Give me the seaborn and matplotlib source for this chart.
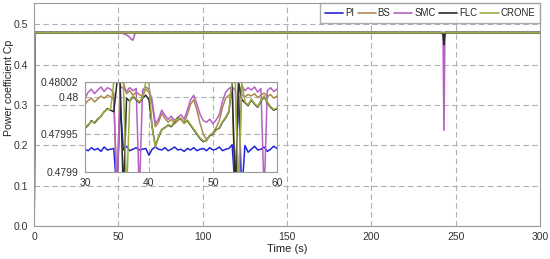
import matplotlib.pyplot as plt
import numpy as np
import pandas as pd
import seaborn as sns

controllers = ["PI", "BS", "SMC", "FLC", "CRONE"]
colors = ["#2424d6", "#b08a4c", "#b462c2", "#2b2b2b", "#9cad42"]

# main plot: Cp over the whole run
t_main = [0, 0.5, 50, 52, 54, 56, 57.5, 58.5, 60, 241, 242, 242.5, 243, 243.5, 244, 300]
cp_main = {
    "PI":    [0, 0.48, 0.48, 0.48, 0.48, 0.48, 0.48, 0.48, 0.48, 0.48, 0.48, 0.48, 0.479, 0.48, 0.48, 0.48],
    "BS":    [0, 0.48, 0.48, 0.48, 0.48, 0.48, 0.48, 0.48, 0.48, 0.48, 0.478, 0.47, 0.455, 0.475, 0.48, 0.48],
    "SMC":   [0, 0.48, 0.48, 0.4785, 0.476, 0.471, 0.464, 0.461, 0.48, 0.48, 0.478, 0.47, 0.238, 0.47, 0.48, 0.48],
    "FLC":   [0, 0.48, 0.48, 0.48, 0.48, 0.48, 0.48, 0.48, 0.48, 0.48, 0.479, 0.475, 0.45, 0.476, 0.48, 0.48],
    "CRONE": [0, 0.48, 0.48, 0.48, 0.48, 0.48, 0.48, 0.48, 0.48, 0.48, 0.48, 0.48, 0.48, 0.48, 0.48, 0.48],
}

# zoomed window 30..60 s, values in units of 1e-5 above 0.4799
t_zoom = np.arange(30, 60.01, 0.5)
u_zoom = {
    "PI": [3.0, 2.8, 3.2, 2.9, 3.1, 2.7, 3.3, 2.9, 3.0, 3.1,
           -3, 9.0, 2.9, 3.4, 2.8, 3.0, 3.2, 2.9, 3.0, 3.1,
           2.2, 3.0, 3.3, 3.0, 2.9, 3.2, 2.8, 3.0, 3.3, 2.9,
           3.0, 2.7, 3.1, 2.9, 3.2, 2.8, 3.0, 3.1, 2.8, 3.2,
           2.9, 3.0, 3.3, 2.8, 3.0, 3.1, 3.6, -3, 11.0, -3,
           3.5, 2.6, 3.0, 3.4, 2.9, 3.0, 3.3, 2.7, 3.0, 3.4, 3.1],
    "BS": [9.0, 9.5, 9.8, 9.3, 9.7, 10.1, 9.8, 10.2, 10.0, 9.6,
           -3, 11.9, 11.9, 10.4, 10.8, 10.2, 10.6, 10.3, 10.0, 11.0,
           10.6, 9.0, 6.0, 6.6, 7.8, 7.1, 6.6, 7.0, 6.4, 6.8,
           7.1, 6.5, 7.6, 9.0, 9.6, 8.2, 6.4, 5.0, 4.3, 4.8,
           5.2, 5.9, 6.8, 8.6, 9.8, 10.2, 10.4, -3, 11.9, 10.2,
           10.0, 10.3, 10.1, 10.4, 9.9, 10.2, 10.5, 10.0, 10.3, 9.8, 10.1],
    "SMC": [9.8, 10.6, 11.0, 10.4, 10.9, 11.3, 10.7, 11.2, 11.0, 10.5,
            -3, 11.4, 11.1, 10.7, 11.2, 10.8, 11.1, -3, 10.9, 11.3,
            11.0, 9.5, 6.4, 7.0, 8.2, 7.5, 7.0, 7.4, 6.8, 7.2,
            7.6, 7.0, 8.2, 9.6, 10.2, 9.0, 7.6, 6.8, 6.6, 7.0,
            6.4, 6.9, 7.6, 9.4, 10.6, 11.1, 11.3, 10.9, -3, 11.5,
            10.8, 11.2, 10.9, 11.3, 10.6, 11.1, -3, 10.8, 11.2, 10.7, 11.0],
    "FLC": [5.8, 6.2, 6.8, 6.5, 7.0, 7.4, 8.0, 8.4, 8.2, 8.0,
            11.9, 11.9, -3, 9.8, 9.4, 10.0, 9.6, 9.2, 9.8, 10.2,
            9.6, 6.0, 3.4, 4.6, 5.6, 5.9, 6.2, 6.0, 6.6, 7.2,
            7.0, 6.5, 6.8, 6.2, 5.6, 5.0, 4.4, 4.0, 4.2, 4.8,
            5.0, 5.6, 5.8, 6.6, 7.2, 8.0, 11.9, -3, 11.9, 9.6,
            9.2, 8.8, 9.6, 9.0, 8.6, 9.4, 10.0, 9.2, 8.6, 8.2, 8.4],
    "CRONE": [5.9, 6.3, 6.7, 6.6, 7.1, 7.3, 8.1, 8.3, 8.3, 11.9,
              11.9, 11.9, 11.9, -3, 9.5, 10.1, 9.7, 9.3, 9.9, 11.9,
              11.9, 5.8, 3.3, 4.7, 5.7, 5.8, 6.3, 6.1, 6.7, 7.1,
              7.1, 6.4, 6.9, 6.3, 5.7, 5.1, 4.5, 4.1, 4.1, 4.9,
              5.1, 5.5, 5.9, 6.7, 7.3, 8.1, 11.9, 11.9, -3, 11.9,
              9.3, 8.9, 9.7, 9.1, 8.7, 9.5, 10.1, 9.3, 8.7, 8.3, 8.5],
}
zoom_yticks = [0.4799, 0.47995, 0.48, 0.48002]
zoom_yticklabels = ["0.4799", "0.47995", "0.48", "0.48002"]

df_main = pd.concat(
    [pd.DataFrame({"t": t_main, "cp": cp_main[c], "ctrl": c}) for c in controllers],
    ignore_index=True,
)
df_zoom = pd.concat(
    [pd.DataFrame({"t": t_zoom, "cp": 0.4799 + 1e-5 * np.array(u_zoom[c]), "ctrl": c}) for c in controllers],
    ignore_index=True,
)

sns.set_style("whitegrid", {"grid.linestyle": (0, (5, 3)), "grid.color": "#b0b0b0", "axes.edgecolor": "#9a9a9a"})
plt.rcParams["font.family"] = ["Liberation Sans", "DejaVu Sans"]
plt.rcParams["axes.linewidth"] = 0.8
plt.rcParams["grid.linewidth"] = 0.8

pal = dict(zip(controllers, colors))

fig = plt.figure(figsize=(5.5, 2.59), dpi=100)
ax = fig.add_axes([0.062, 0.127, 0.920, 0.861])
sns.lineplot(data=df_main, x="t", y="cp", hue="ctrl", hue_order=controllers, palette=pal,
             linewidth=1.2, ax=ax, estimator=None, sort=False)
ax.set_xlim(0, 300)
ax.set_ylim(0, 0.553)
ax.set_xticks([0, 50, 100, 150, 200, 250, 300])
ax.set_yticks([0, 0.1, 0.2, 0.3, 0.4, 0.5])
ax.tick_params(labelsize=7.5, colors="#333333", pad=1)
ax.set_xlabel("Time (s)", fontsize=8, color="#222222", labelpad=1)
ax.set_ylabel("Power coefficient Cp", fontsize=7.6, color="#222222", va="center")
ax.yaxis.set_label_coords(-0.049, 0.62)
ax.legend(ncol=5, loc="upper right", fontsize=6.9, frameon=True, fancybox=False,
          edgecolor="#9a9a9a", handlelength=1.9, handletextpad=0.2, columnspacing=0.35,
          borderpad=0.5, borderaxespad=0.0)

axin = fig.add_axes([0.1545, 0.337, 0.349, 0.3475])
sns.lineplot(data=df_zoom, x="t", y="cp", hue="ctrl", hue_order=controllers, palette=pal,
             linewidth=1.1, ax=axin, estimator=None, sort=False, legend=False)
axin.set_xlim(30, 60)
axin.set_ylim(0.4799, 0.48002)
axin.set_xticks([30, 40, 50, 60])
axin.set_yticks(zoom_yticks)
axin.set_yticklabels(zoom_yticklabels)
axin.tick_params(labelsize=7.5, colors="#333333", pad=1)
axin.set_xlabel("")
axin.set_ylabel("")

fig.savefig("out.png", dpi=100)
